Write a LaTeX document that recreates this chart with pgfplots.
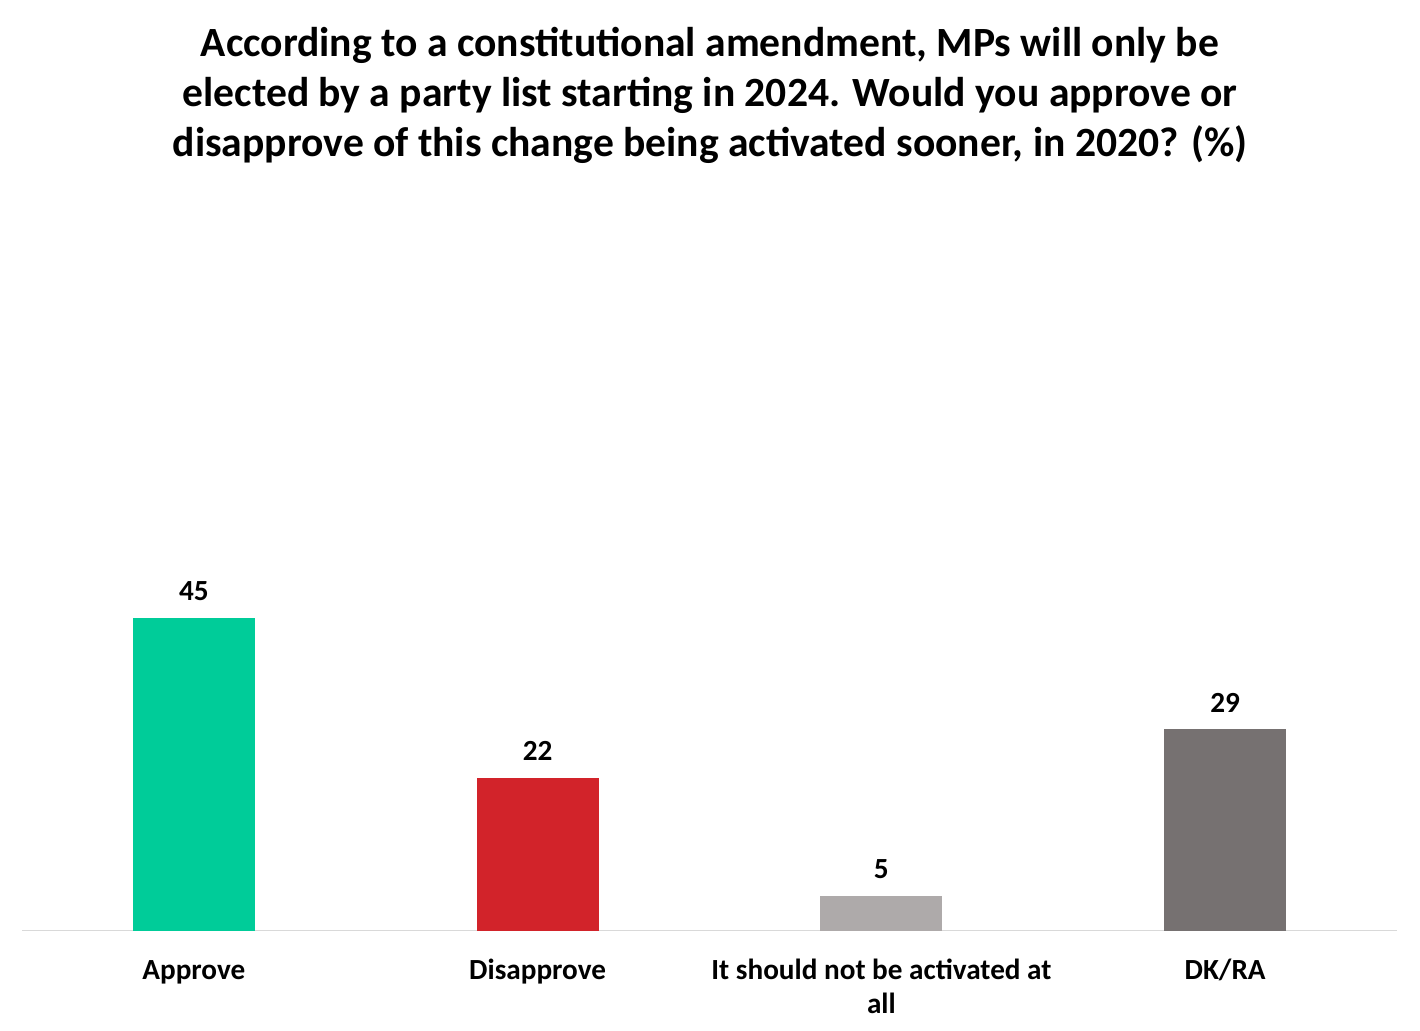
\documentclass[border=0pt]{standalone}
\usepackage{pgfplots}
\pgfplotsset{compat=1.18}
\usepackage{fontspec}
\setmainfont{Carlito}
\definecolor{cApprove}{HTML}{00CC99}
\definecolor{cDis}{HTML}{D2232A}
\definecolor{cNot}{HTML}{AEAAAA}
\definecolor{cDK}{HTML}{767171}
\definecolor{axgray}{HTML}{D9D9D9}
\begin{document}
\begin{tikzpicture}
\useasboundingbox (0,0) rectangle (710pt,515.5pt);
\node[anchor=base,inner sep=0pt,font=\bfseries\fontsize{20.8}{25}\selectfont] at (355pt,487pt) {According to a constitutional amendment, MPs will only be};
\node[anchor=base,inner sep=0pt,font=\bfseries\fontsize{20.8}{25}\selectfont] at (355pt,462pt) {elected by a party list starting in 2024. Would you approve or};
\node[anchor=base,inner sep=0pt,font=\bfseries\fontsize{20.8}{25}\selectfont] at (355pt,437pt) {disapprove of this change being activated sooner, in 2020? (\%)};
\begin{axis}[
  at={(11pt,50pt)}, anchor=south west,
  scale only axis, width=687.5pt, height=347.5pt,
  xmin=-0.5, xmax=3.5, ymin=0, ymax=100,
  axis x line*=bottom, axis y line=none,
  x axis line style={draw=axgray, line width=0.5pt, -},
  xtick={0,1,2,3},
  xticklabels={{\strut Approve},{\strut Disapprove},{\strut It should not be activated at\\all},{\strut DK/RA}},
  xticklabel style={font=\bfseries\fontsize{14.6}{17}\selectfont, align=center, anchor=north, inner sep=0pt, yshift=-12pt},
  major tick length=0pt, xtick style={draw=none},
  ytick=\empty,
  ybar, bar width=61pt,
  nodes near coords,
  /pgf/number format/assume math mode=true,
  every node near coord/.append style={font=\bfseries\fontsize{14.6}{17}\selectfont, anchor=south, inner sep=0pt, yshift=8.5pt, black},
  clip=false,
]
\addplot[fill=cApprove, draw=none, bar shift=0pt] coordinates {(0,45)};
\addplot[fill=cDis, draw=none, bar shift=0pt] coordinates {(1,22)};
\addplot[fill=cNot, draw=none, bar shift=0pt] coordinates {(2,5)};
\addplot[fill=cDK, draw=none, bar shift=0pt] coordinates {(3,29)};
\end{axis}
\end{tikzpicture}
\end{document}
